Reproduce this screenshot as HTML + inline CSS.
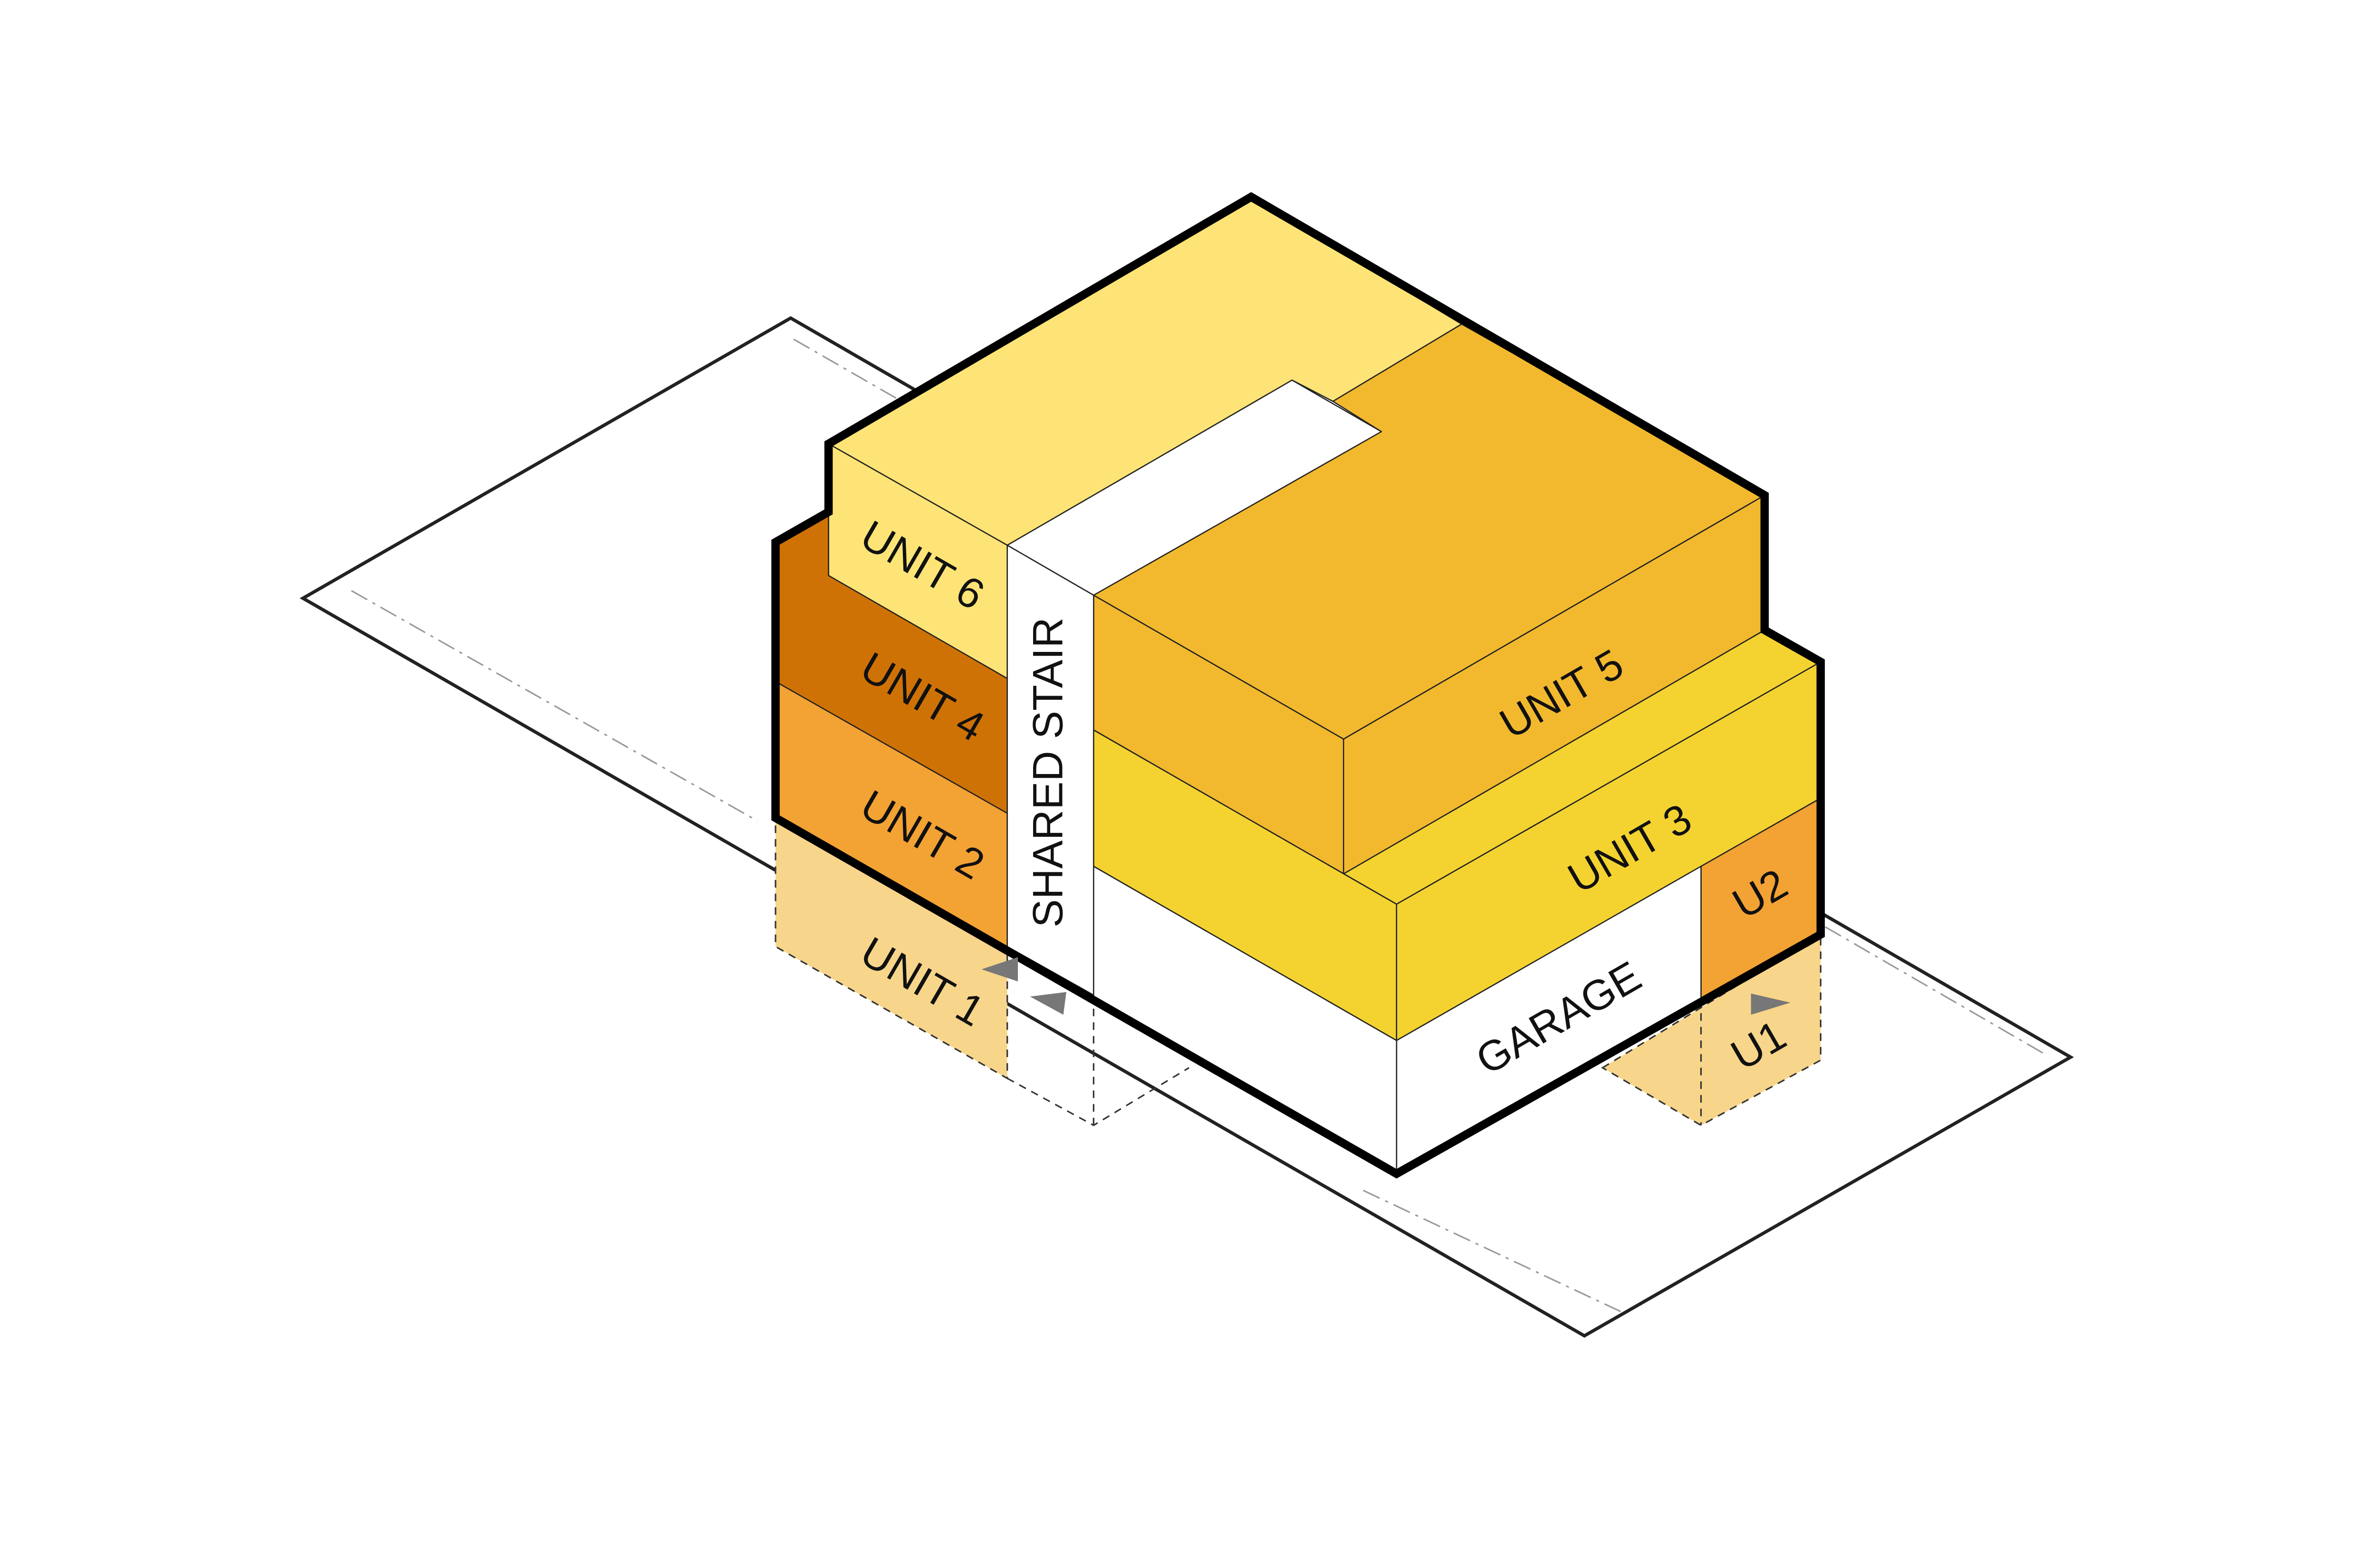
<!DOCTYPE html>
<html><head><meta charset="utf-8"><style>html,body{margin:0;padding:0;background:#fff}svg{display:block}</style></head>
<body>
<svg width="5100" height="3300" viewBox="0 0 1600 1035.3" xmlns="http://www.w3.org/2000/svg">
<rect width="1600" height="1036" fill="#fff"/>
<polygon points="522,210 200,395 1046,882 1367,698" fill="none" stroke="#222" stroke-width="2.2"/>
<g stroke="#999" stroke-width="1" stroke-dasharray="12,4,2,4" fill="none">
<line x1="524" y1="224" x2="604" y2="270"/>
<line x1="232" y1="390" x2="500" y2="542"/>
<line x1="900" y1="786" x2="1070" y2="866"/>
<line x1="1205" y1="612" x2="1350" y2="696"/>
</g>
<polygon points="512,540 665,625 665,712 512,625" fill="#F7D58A" stroke="#333" stroke-width="1" stroke-dasharray="5,4"/>
<polyline points="665,712 722,743 785,705" fill="none" stroke="#333" stroke-width="1" stroke-dasharray="5,4"/>
<line x1="722" y1="657" x2="722" y2="743" stroke="#333" stroke-width="1" stroke-dasharray="5,4"/>
<polygon points="1058,705 1202,617 1202,700 1123,743" fill="#F7D58A" stroke="#333" stroke-width="1" stroke-dasharray="5,4"/>
<line x1="1123" y1="660" x2="1123" y2="743" stroke="#333" stroke-width="1" stroke-dasharray="5,4"/>
<g stroke="#222" stroke-width="0.8" stroke-linejoin="round">
<polygon points="547,293 826,130 965,214 880,265 853,251 665,360" fill="#FEE476"/>
<polygon points="853,251 912,285 722,393 665,360" fill="#fff"/>
<polygon points="965,214 1165,327 887,488 722,393 912,285 880,265" fill="#F2B92E"/>
<polygon points="722,393 887,488 887,577 722,482" fill="#F2B92E"/>
<polygon points="887,488 1165,327 1165,416 887,577" fill="#F2B92E"/>
<polygon points="547,293 665,360 665,448 547,380" fill="#FEE476"/>
<polygon points="512,358 547,338 547,380 665,448 665,537 512,450" fill="#CF7206"/>
<polygon points="512,450 665,537 665,625 512,540" fill="#F3A234"/>
<polygon points="665,360 722,393 722,657 665,625" fill="#fff"/>
<polygon points="722,482 887,577 1165,416 1202,437 922,597" fill="#F4D331"/>
<polygon points="722,482 922,597 922,687 722,572" fill="#F4D331"/>
<polygon points="922,597 1202,437 1202,527 922,687" fill="#F4D331"/>
<polygon points="1123,572 1202,527 1202,617 1123,660" fill="#F3A234"/>
<polygon points="922,687 1123,572 1123,660 922,775" fill="#fff"/>
<polygon points="722,572 922,687 922,775 722,660" fill="#fff"/>
</g>
<polygon points="826,130 1165,327 1165,416 1202,437 1202,617 922,775 512,540 512,358 547,338 547,293" fill="none" stroke="#000" stroke-width="5.5" stroke-linejoin="miter"/>
<g fill="#777">
<polygon points="648,640 672,632 672,648"/>
<polygon points="680,658 704,655 702,670"/>
<polygon points="1156,656 1182,662 1156,670"/>
</g>
<g font-family="'Liberation Sans',sans-serif" font-size="28" fill="#111" text-anchor="middle" dominant-baseline="middle">
<text transform="translate(608,375) rotate(30)">UNIT 6</text>
<text transform="translate(608,462) rotate(30)">UNIT 4</text>
<text transform="translate(608,553) rotate(30)">UNIT 2</text>
<text transform="translate(608,650) rotate(30)">UNIT 1</text>
<text transform="translate(694,510) rotate(-90)">SHARED STAIR</text>
<text transform="translate(1032,460) rotate(-30)">UNIT 5</text>
<text transform="translate(1077,562) rotate(-30)">UNIT 3</text>
<text transform="translate(1030,674) rotate(-30)">GARAGE</text>
<text transform="translate(1163,592) rotate(-30)">U2</text>
<text transform="translate(1162,692) rotate(-30)">U1</text>
</g>
</svg>
</body></html>
